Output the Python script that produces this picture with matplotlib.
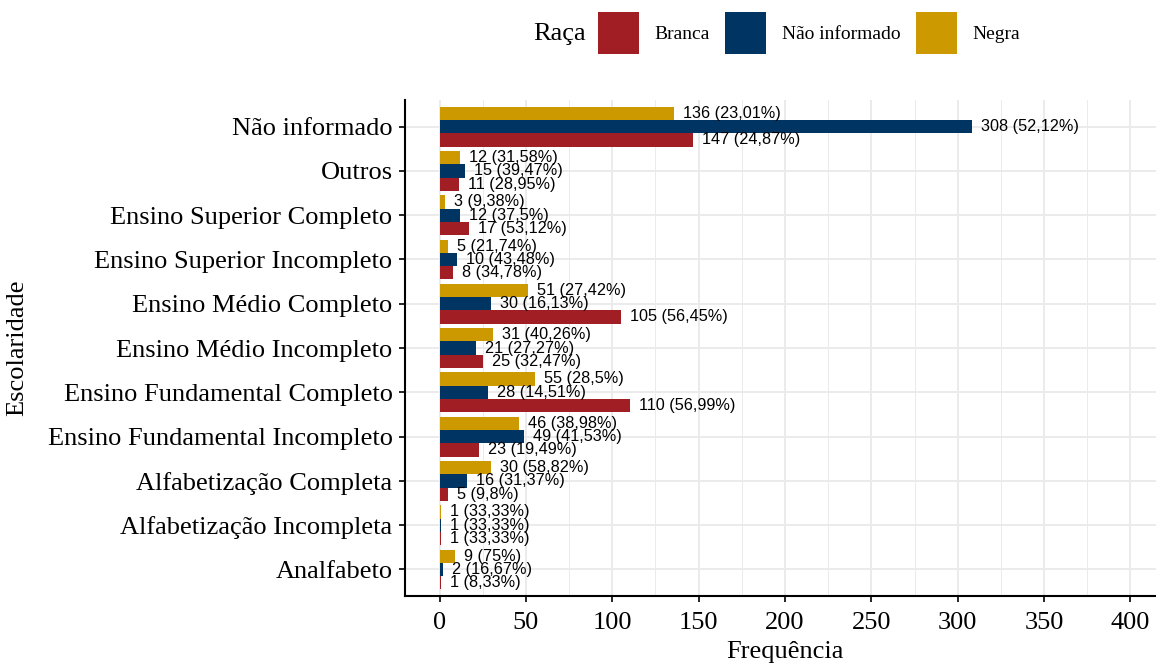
import matplotlib.pyplot as plt
import numpy as np

plt.rcParams['font.family'] = ['Liberation Serif', 'DejaVu Serif']

# categories bottom -> top
categorias = ["Analfabeto", "Alfabetização Incompleta", "Alfabetização Completa",
              "Ensino Fundamental Incompleto", "Ensino Fundamental Completo",
              "Ensino Médio Incompleto", "Ensino Médio Completo",
              "Ensino Superior Incompleto", "Ensino Superior Completo",
              "Outros", "Não informado"]

branca = [1, 1, 5, 23, 110, 25, 105, 8, 17, 11, 147]
nao_inf = [2, 1, 16, 49, 28, 21, 30, 10, 12, 15, 308]
negra = [9, 1, 30, 46, 55, 31, 51, 5, 3, 12, 136]

pct_branca = ["8,33", "33,33", "9,8", "19,49", "56,99", "32,47", "56,45", "34,78", "53,12", "28,95", "24,87"]
pct_nao_inf = ["16,67", "33,33", "31,37", "41,53", "14,51", "27,27", "16,13", "43,48", "37,5", "39,47", "52,12"]
pct_negra = ["75", "33,33", "58,82", "38,98", "28,5", "40,26", "27,42", "21,74", "9,38", "31,58", "23,01"]

cores = {"Branca": "#A11E24", "Não informado": "#003463", "Negra": "#CC9900"}

fig = plt.figure(figsize=(11.56, 6.63), dpi=100)
ax = fig.add_axes([405 / 1156, 67 / 663, 760 / 1156, 496 / 663])

y = np.arange(len(categorias))
h = 0.3
series = [("Branca", branca, pct_branca, -h),
          ("Não informado", nao_inf, pct_nao_inf, 0.0),
          ("Negra", negra, pct_negra, h)]

handles = []
for nome, vals, pcts, off in series:
    b = ax.barh(y + off, vals, height=h, color=cores[nome], label=nome, zorder=3)
    handles.append(b)
    for yi, v, p in zip(y, vals, pcts):
        ax.annotate(f"{v} ({p}%)", (v, yi + off), xytext=(6.5, 0),
                    textcoords="offset points", ha="left", va="center",
                    fontsize=11.7, family="Liberation Sans", color="black", zorder=4)

ax.set_xlim(-20, 420)
ax.set_ylim(-0.6, len(categorias) - 0.4)
ax.set_xticks(np.arange(0, 401, 50))
ax.set_xticks(np.arange(25, 401, 50), minor=True)
ax.set_yticks(y)
ax.set_yticklabels(categorias)

ax.grid(which="major", color="#EBEBEB", linewidth=1.4, zorder=0)
ax.grid(which="minor", axis="x", color="#EBEBEB", linewidth=0.7, zorder=0)
ax.set_axisbelow(True)
for s in ["top", "right"]:
    ax.spines[s].set_visible(False)
for s in ["left", "bottom"]:
    ax.spines[s].set_linewidth(1.5)
ax.tick_params(axis="both", which="major", labelsize=19, length=4.5, width=1.2, color="black")
ax.tick_params(axis="y", which="major", pad=4.5)
ax.tick_params(axis="x", which="major", pad=7)
ax.tick_params(axis="x", which="minor", length=0)

ax.set_xlabel("Frequência", fontsize=19, labelpad=5)
ax.set_ylabel("Escolaridade", fontsize=19, labelpad=14)

fig.text(560 / 1156, 1 - 34 / 663, "Raça", fontsize=19, ha="center", va="center")
fig.legend(handles=handles, loc="center left", bbox_to_anchor=(598 / 1156, 1 - 33 / 663),
           ncol=3, frameon=False, fontsize=14, handlelength=2.1, handleheight=2.88,
           handletextpad=0.82, columnspacing=0.78, borderpad=0, borderaxespad=0)

fig.savefig("out.png", dpi=100)
